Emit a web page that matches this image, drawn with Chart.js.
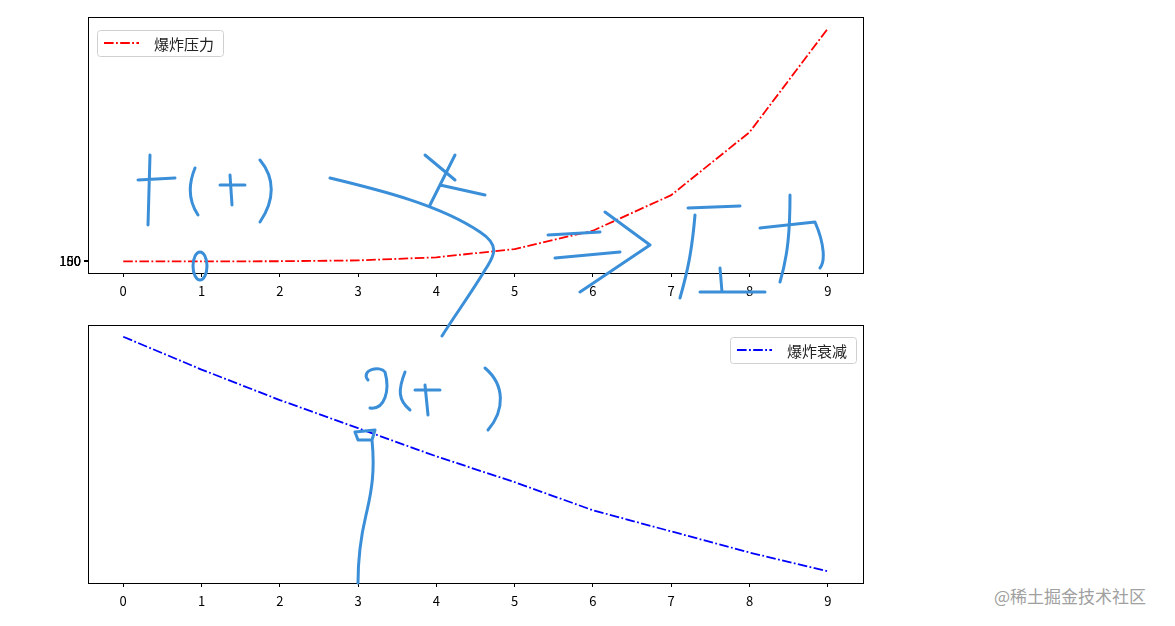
<!DOCTYPE html>
<html>
<head>
<meta charset="utf-8">
<script src="https://cdn.jsdelivr.net/npm/chart.js@4"></script>
<style>
  body { margin: 0; background: #fff; width: 1175px; height: 626px; position: relative; overflow: hidden; }
  canvas { position: absolute; left: 0; }
  #top { top: 0; }
  #bottom { top: 310px; }
  svg { position: absolute; left: 0; top: 0; pointer-events: none; }
  #mark { position: absolute; left: 994px; top: 583px; color: #a0a0a0; font: 17px "Noto Sans CJK SC", sans-serif; }
</style>
</head>
<body>
<canvas id="top" width="880" height="310"></canvas>
<canvas id="bottom" width="880" height="316"></canvas>
<div id="mark">@稀土掘金技术社区</div>
<script>
// 数据
const t = [0, 1, 2, 3, 4, 5, 6, 7, 8, 9];
const pressure = [0, 1, 32, 243, 1024, 3125, 7776, 16807, 32768, 59049];
const decay = [1.00, 0.86, 0.73, 0.61, 0.49, 0.38, 0.26, 0.17, 0.08, 0.00];
const pressureTicks = [50, 100, 150];
const pressureLabel = '爆炸压力';
const decayLabel = '爆炸衰减';

const tickFont = { family: 'Noto Sans CJK SC', size: 13 };
const dashDot = [9.6, 2.4, 1.8, 2.4];

// 边框 + 图例
const framePlugin = {
    id: 'frame',
    afterDraw(chart) {
        const { ctx, chartArea: a } = chart;
        ctx.save();
        ctx.strokeStyle = '#000';
        ctx.lineWidth = 1;
        ctx.strokeRect(a.left + 0.5, a.top + 0.5, a.right - a.left, a.bottom - a.top);

        const opt = chart.options.plugins.boxLegend;
        const ds = chart.data.datasets[0];
        ctx.font = '15px "Noto Sans CJK SC"';
        const tw = ctx.measureText(ds.label).width;
        const w = 7 + 35 + 15 + tw + 9, h = 26;
        const x = opt.side === 'left' ? a.left + 9 : a.right - 7 - w;
        const y = a.top + opt.dy;
        ctx.fillStyle = 'rgba(255,255,255,0.8)';
        ctx.strokeStyle = '#d0d0d0';
        ctx.beginPath();
        ctx.roundRect(x + 0.5, y + 0.5, w, h, 3);
        ctx.fill();
        ctx.stroke();
        ctx.strokeStyle = ds.borderColor;
        ctx.lineWidth = ds.borderWidth;
        ctx.setLineDash(dashDot);
        ctx.beginPath();
        ctx.moveTo(x + 7, y + h / 2);
        ctx.lineTo(x + 42, y + h / 2);
        ctx.stroke();
        ctx.setLineDash([]);
        ctx.fillStyle = '#222';
        ctx.textBaseline = 'middle';
        ctx.fillText(ds.label, x + 57, y + h / 2 + 1);
        ctx.restore();
    }
};

function xScale(height) {
    return {
        type: 'linear', min: -0.45, max: 9.45,
        afterBuildTicks: s => { s.ticks = t.map(v => ({ value: v })); },
        afterFit: s => { s.height = height; },
        grid: { drawOnChartArea: false, color: '#000', tickLength: 4 },
        border: { display: false },
        ticks: { color: '#000', font: tickFont, padding: 6, autoSkip: false, maxRotation: 0 }
    };
}

new Chart(document.getElementById('top'), {
    type: 'line',
    data: {
        datasets: [{
            label: pressureLabel,
            data: t.map((v, i) => ({ x: v, y: pressure[i] })),
            borderColor: '#ff0000', borderWidth: 1.8, borderDash: dashDot,
            pointRadius: 0, tension: 0, fill: false
        }]
    },
    options: {
        responsive: false, animation: false,
        layout: { padding: { left: 0, top: 17, right: 17, bottom: 0 } },
        plugins: { legend: { display: false }, tooltip: { enabled: false }, boxLegend: { side: 'left', dy: 13 } },
        scales: {
            x: xScale(37),
            y: {
                min: -2952.45, max: 62001.45,
                afterBuildTicks: s => { s.ticks = pressureTicks.map(v => ({ value: v })); },
                afterFit: s => { s.width = 88; },
                grid: { drawOnChartArea: false, color: '#000', tickLength: 4 },
                border: { display: false },
                ticks: { color: '#000', font: tickFont, padding: 3, autoSkip: false }
            }
        }
    },
    plugins: [framePlugin]
});

new Chart(document.getElementById('bottom'), {
    type: 'line',
    data: {
        datasets: [{
            label: decayLabel,
            data: t.map((v, i) => ({ x: v, y: decay[i] })),
            borderColor: '#0000ff', borderWidth: 1.8, borderDash: dashDot,
            pointRadius: 0, tension: 0, fill: false
        }]
    },
    options: {
        responsive: false, animation: false,
        layout: { padding: { left: 0, top: 15, right: 17, bottom: 0 } },
        plugins: { legend: { display: false }, tooltip: { enabled: false }, boxLegend: { side: 'right', dy: 12 } },
        scales: {
            x: xScale(43),
            y: {
                min: -0.05, max: 1.05,
                afterFit: s => { s.width = 88; },
                grid: { display: false },
                border: { display: false },
                ticks: { display: false }
            }
        }
    },
    plugins: [framePlugin]
});
</script>
<!-- 手写批注 -->
<svg width="1175" height="626" fill="none" stroke="#3a8fd8" stroke-width="3" stroke-linecap="round" stroke-linejoin="round">
  <path d="M330 178 C380 190 440 205 480 232 C500 245 495 255 485 270 C470 295 455 315 442 336"/>
  <path d="M425 155 L455 180 M455 155 L430 205 M440 185 L485 195"/>
  <path d="M548 235 L600 232 M555 258 L620 252 M605 212 L650 245 L580 292"/>
  <path d="M688 208 L740 206 M695 215 C692 250 688 270 680 298 M720 268 L722 292 M700 292 L765 292"/>
  <path d="M760 228 L815 222 C825 245 825 262 820 268 M790 195 C790 230 788 255 780 282"/>
  <path d="M150 155 L148 225 M138 180 L175 178 M195 168 C188 185 188 200 198 215 M230 175 L232 205 M220 185 L245 185 M260 160 C275 178 275 200 260 222"/>
  <ellipse cx="200" cy="266" rx="7" ry="14"/>
  <path d="M368 380 C360 370 380 365 385 372 C390 390 385 410 370 408 M405 372 C398 390 398 400 410 410 M425 385 L428 415 M415 390 L440 390 M485 368 C505 385 505 410 488 430"/>
  <path d="M355 432 L375 430 L372 440 L358 440 Z M372 440 C375 470 372 490 366 515 C360 540 358 560 358 583"/>
</svg>
</body>
</html>
